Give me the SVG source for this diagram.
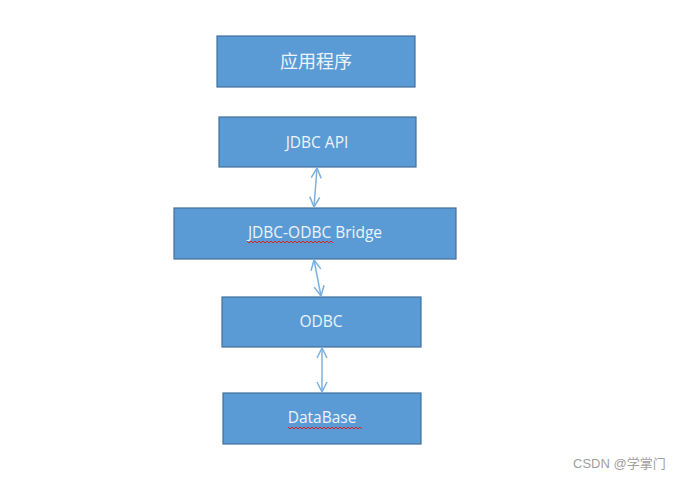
<svg xmlns="http://www.w3.org/2000/svg" width="688" height="480" viewBox="0 0 688 480">
<style>
.box{fill:#5b9bd5;stroke:#41719c;stroke-width:1.2}
.t{fill:#eef3fb;font-family:"Open Sans","Liberation Sans",sans-serif;font-size:15.5px;text-anchor:middle}
.cjk{fill:#eef3fb;font-family:"Noto Sans CJK SC",sans-serif;font-size:18px;text-anchor:middle}
.c{stroke:#7ab0e0;stroke-width:1.5;fill:none}
.wave{stroke:#e02020;stroke-width:1;fill:none}
</style>
<defs>
<marker id="ah" viewBox="0 0 12 12" refX="11" refY="6" markerWidth="12" markerHeight="12" markerUnits="userSpaceOnUse" orient="auto-start-reverse">
<path d="M1 1 L11 6 L1 11" fill="none" stroke="#7ab0e0" stroke-width="1.5"/>
</marker>
</defs>
<rect width="688" height="480" fill="#ffffff"/>
<g id="app"><rect class="box" x="217" y="36" width="198" height="51"/><text class="cjk" x="316" y="68">应用程序</text></g>
<g id="jdbcapi"><rect class="box" x="219" y="117" width="197" height="50"/><text class="t" x="317" y="148">JDBC API</text></g>
<g id="bridge"><rect class="box" x="174" y="208" width="282" height="51"/><text class="t" x="315" y="238">JDBC-ODBC Bridge</text>
<path class="wave" d="M247 241 l2 2 l2 -2 l2 2 l2 -2 l2 2 l2 -2 l2 2 l2 -2 l2 2 l2 -2 l2 2 l2 -2 l2 2 l2 -2 l2 2 l2 -2 l2 2 l2 -2 l2 2 l2 -2 l2 2 l2 -2 l2 2 l2 -2 l2 2 l2 -2 l2 2 l2 -2 l2 2 l2 -2 l2 2 l2 -2 l2 2 l2 -2 l2 2 l2 -2 l2 2 l2 -2 l2 2 l2 -2 l2 2 l2 -2 l2 2"/></g>
<g id="odbc"><rect class="box" x="222" y="297" width="199" height="50"/><text class="t" x="321" y="327">ODBC</text></g>
<g id="database"><rect class="box" x="223" y="393" width="198" height="51"/><text class="t" x="322" y="423">DataBase</text>
<path class="wave" d="M288 427 l2 2 l2 -2 l2 2 l2 -2 l2 2 l2 -2 l2 2 l2 -2 l2 2 l2 -2 l2 2 l2 -2 l2 2 l2 -2 l2 2 l2 -2 l2 2 l2 -2 l2 2 l2 -2 l2 2 l2 -2 l2 2 l2 -2 l2 2 l2 -2 l2 2 l2 -2 l2 2 l2 -2 l2 2 l2 -2 l2 2 l2 -2 l2 2 l2 -2 l2 2"/></g>
<g id="connectors">
<line class="c" x1="317" y1="168" x2="314" y2="207" marker-start="url(#ah)" marker-end="url(#ah)"/>
<line class="c" x1="314" y1="260" x2="321" y2="296" marker-start="url(#ah)" marker-end="url(#ah)"/>
<line class="c" x1="322" y1="348" x2="322" y2="392" marker-start="url(#ah)" marker-end="url(#ah)"/>
</g>
<text x="573" y="468" fill="#a0a0a0" font-family="'Liberation Sans','Noto Sans CJK SC',sans-serif" font-size="13">CSDN @学掌门</text>
</svg>
